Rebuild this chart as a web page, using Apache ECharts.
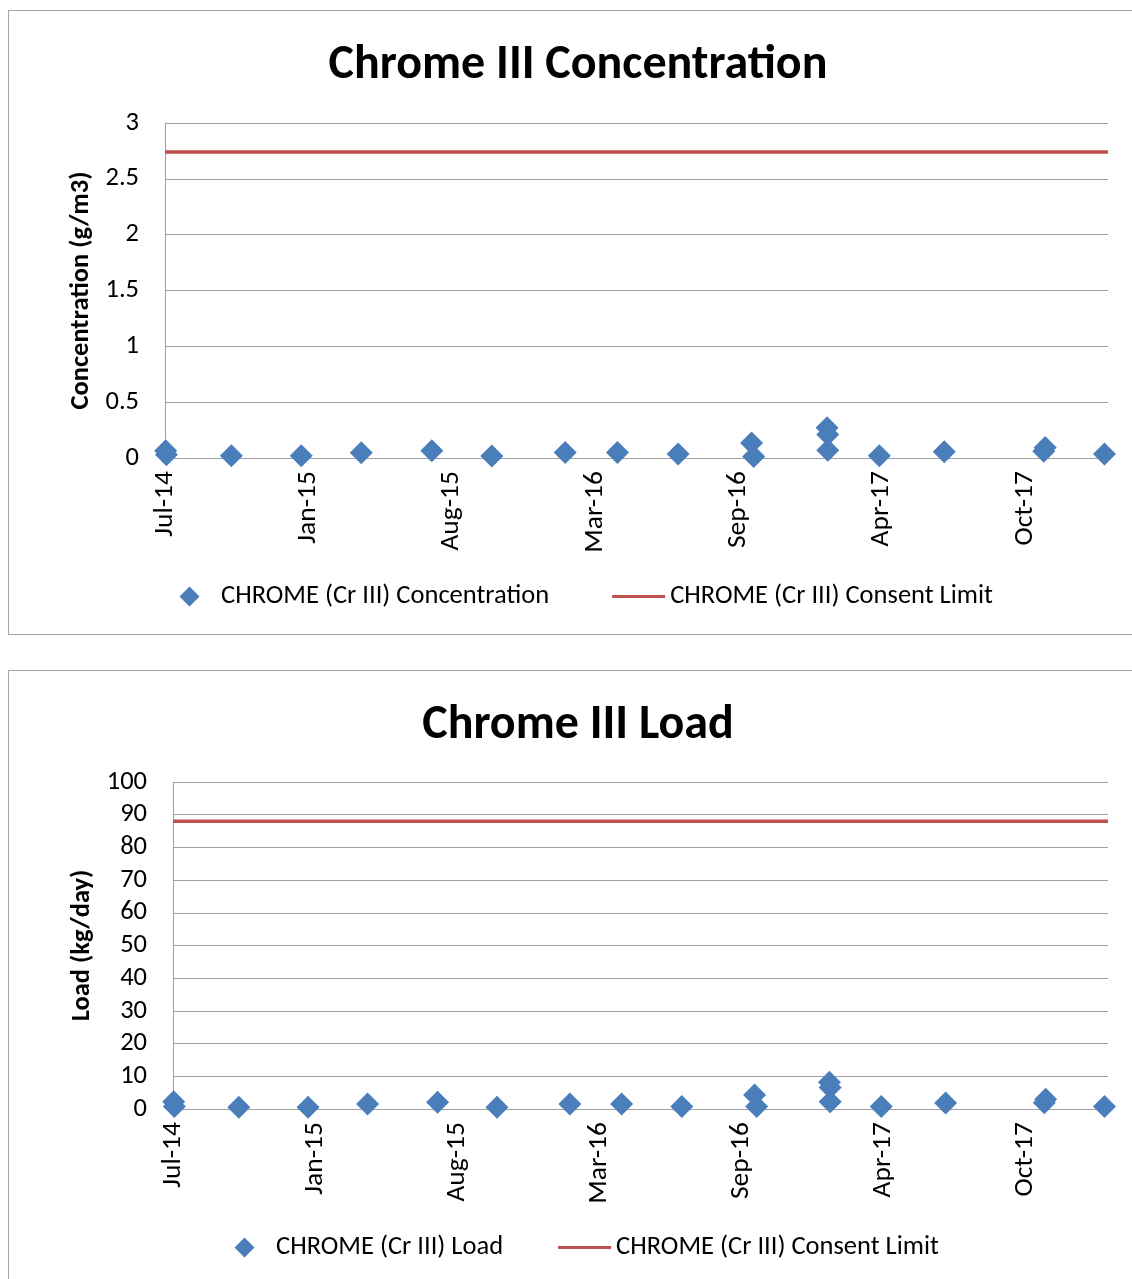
<!DOCTYPE html>
<html>
<head>
<meta charset="utf-8">
<script src="https://cdn.jsdelivr.net/npm/echarts@6/dist/echarts.min.js"></script>
<style>
  html, body { margin: 0; padding: 0; background: #fff; overflow: hidden; width: 1132px; height: 1279px; }
  .box { position: absolute; left: 8px; width: 1140px; border: 1px solid #a6a6a6; box-sizing: border-box; background: #fff; }
  #concChart { top: 10px; height: 625px; }
  #loadChart { top: 670px; height: 640px; }
</style>
</head>
<body>
<div id="concChart" class="box"></div>
<div id="loadChart" class="box"></div>
<script>
// Sampling dates of the discharge monitoring results
const sampleDates = [
  '2014-07-02', '2014-07-03', '2014-10-03', '2015-01-10', '2015-04-05',
  '2015-07-14', '2015-10-07', '2016-01-19', '2016-04-02', '2016-06-27',
  '2016-10-09', '2016-10-12', '2017-01-24', '2017-01-25', '2017-01-25',
  '2017-04-08', '2017-07-09', '2017-11-27', '2017-11-29', '2018-02-21'
];
// Chrome III concentration, g/m3
const concentration = [
  0.065, 0.03, 0.02, 0.02, 0.047,
  0.065, 0.018, 0.05, 0.05, 0.035,
  0.134, 0.014, 0.27, 0.21, 0.07,
  0.02, 0.056, 0.06, 0.095, 0.035
];
// Chrome III load, kg/day
const load = [
  2.2, 0.8, 0.5, 0.5, 1.5,
  2.1, 0.5, 1.5, 1.5, 0.8,
  4.3, 0.8, 8.2, 6.6, 2.2,
  0.8, 1.8, 1.9, 3.0, 0.8
];
// Consent limits
const concentrationLimit = 2.74;
const loadLimit = 88;

// Date axis: days counted from the axis start, ticks every 203 days
const axisStart = '2014-07-01';
const axisEnd = '2018-02-26';
const tickDays = 203;
const monthNames = ['Jan', 'Feb', 'Mar', 'Apr', 'May', 'Jun', 'Jul', 'Aug', 'Sep', 'Oct', 'Nov', 'Dec'];

const DAY_MS = 86400000;
const startMs = Date.parse(axisStart + 'T00:00:00Z');
function dayIndex(s) { return Math.round((Date.parse(s + 'T00:00:00Z') - startMs) / DAY_MS); }
function dateLabel(d) {
  const t = new Date(startMs + d * DAY_MS);
  return monthNames[t.getUTCMonth()] + '-' + String(t.getUTCFullYear() % 100).padStart(2, '0');
}
const xMax = dayIndex(axisEnd);

const FONT = 'Carlito, Lato, sans-serif';
const TEXT_SIZE = 26.5;
const GRID_COLOR = '#a0a0a0';
const MARKER_COLOR = '#4a7ebb';
const LIMIT_COLOR = '#c0504d';
// Legend icons drawn in a 53 x 20 box: a centred diamond, and a plain line
const DIAMOND_ICON = 'path://M0,10L0.001,10ZM53,10L52.999,10ZM26.5,0L36.5,10L26.5,20L16.5,10Z';
const LINE_ICON = 'path://M0,0L0.001,0ZM0,20L0.001,20ZM0,8.5L53,8.5L53,11.5L0,11.5Z';

function buildOption(cfg) {
  return {
    animation: false,
    backgroundColor: '#fff',
    textStyle: { fontFamily: FONT, color: '#000' },
    title: {
      text: cfg.title,
      left: 'center',
      top: cfg.titleTop,
      textStyle: { fontFamily: FONT, fontSize: 48, fontWeight: 'bold', color: '#000' }
    },
    grid: cfg.grid,
    legend: {
      left: cfg.legendLeft,
      top: cfg.legendTop,
      itemWidth: 53,
      itemHeight: 20,
      itemGap: cfg.legendGap,
      textStyle: { fontFamily: FONT, fontSize: TEXT_SIZE, color: '#000' },
      data: [
        { name: cfg.pointName, icon: DIAMOND_ICON, itemStyle: { color: MARKER_COLOR, opacity: 1 } },
        { name: cfg.limitName, icon: LINE_ICON, itemStyle: { color: LIMIT_COLOR, opacity: 1 } }
      ]
    },
    xAxis: {
      type: 'value',
      min: 0,
      max: xMax,
      interval: tickDays,
      axisLine: { show: true, lineStyle: { color: GRID_COLOR, width: 1 } },
      axisTick: { show: false },
      splitLine: { show: false },
      axisLabel: {
        rotate: 90,
        margin: 13,
        showMaxLabel: false,
        fontFamily: FONT,
        fontSize: 27.5,
        color: '#000',
        formatter: dateLabel
      }
    },
    yAxis: {
      type: 'value',
      min: 0,
      max: cfg.yMax,
      interval: cfg.yInterval,
      name: cfg.yName,
      nameLocation: 'middle',
      nameRotate: 90,
      nameGap: cfg.nameGap,
      nameTextStyle: { fontFamily: FONT, fontSize: TEXT_SIZE, fontWeight: 'bold', color: '#000' },
      axisLine: { show: true, lineStyle: { color: GRID_COLOR, width: 1 } },
      axisTick: { show: false },
      splitLine: { show: true, lineStyle: { color: GRID_COLOR, width: 1 } },
      axisLabel: { margin: 26, fontFamily: FONT, fontSize: TEXT_SIZE, color: '#000' }
    },
    series: [
      {
        name: cfg.pointName,
        type: 'scatter',
        symbol: 'diamond',
        symbolSize: 23,
        itemStyle: { color: MARKER_COLOR, opacity: 1 },
        data: sampleDates.map((d, i) => [dayIndex(d), cfg.values[i]]),
        z: 3
      },
      {
        name: cfg.limitName,
        type: 'line',
        symbol: 'none',
        lineStyle: { color: LIMIT_COLOR, width: 3.5 },
        itemStyle: { color: LIMIT_COLOR },
        data: [[0, cfg.limit], [xMax, cfg.limit]],
        z: 2
      }
    ]
  };
}

const concChart = echarts.init(document.getElementById('concChart'), null, { renderer: 'canvas' });
concChart.setOption(buildOption({
  title: 'Chrome III Concentration',
  titleTop: 26,
  grid: { left: 156, top: 112, right: 39, bottom: 176 },
  legendLeft: 149,
  legendTop: 567,
  legendGap: 63,
  pointName: 'CHROME (Cr III) Concentration',
  limitName: 'CHROME (Cr III) Consent Limit',
  yName: 'Concentration (g/m3)',
  nameGap: 66,
  yMax: 3,
  yInterval: 0.5,
  values: concentration,
  limit: concentrationLimit
}));

const loadChart = echarts.init(document.getElementById('loadChart'), null, { renderer: 'canvas' });
loadChart.setOption(buildOption({
  title: 'Chrome III Load',
  titleTop: 26,
  grid: { left: 164, top: 111, right: 39, bottom: 200 },
  legendLeft: 204,
  legendTop: 558,
  legendGap: 55,
  pointName: 'CHROME (Cr III) Load',
  limitName: 'CHROME (Cr III) Consent Limit',
  yName: 'Load (kg/day)',
  nameGap: 72,
  yMax: 100,
  yInterval: 10,
  values: load,
  limit: loadLimit
}));
</script>
</body>
</html>
